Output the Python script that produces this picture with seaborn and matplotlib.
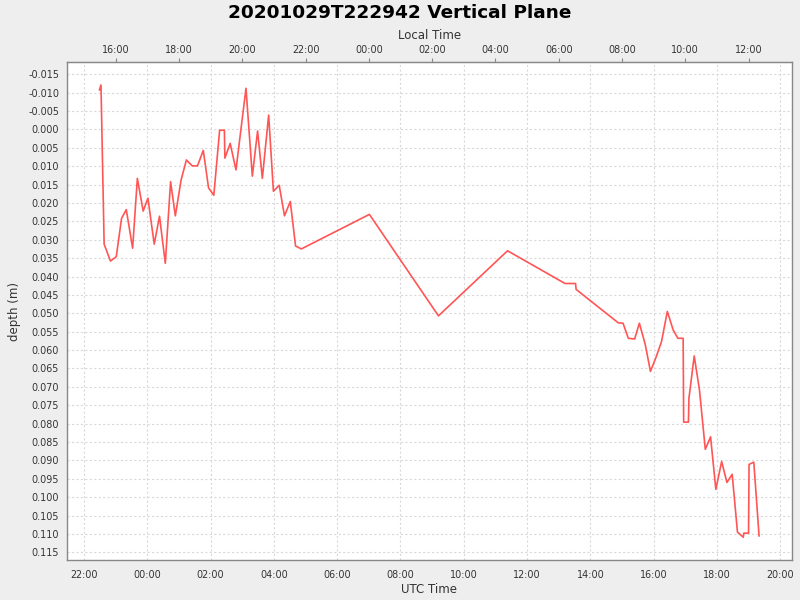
import pandas as pd
import matplotlib
matplotlib.use('Agg')
import matplotlib.pyplot as plt
import matplotlib.dates as mdates
import matplotlib.ticker as mticker
import seaborn as sns

# sample times (UTC) and depth readings
times = [
    '2020-10-29 22:29', '2020-10-29 22:32', '2020-10-29 22:38', '2020-10-29 22:50',
    '2020-10-29 23:01', '2020-10-29 23:11', '2020-10-29 23:20', '2020-10-29 23:32',
    '2020-10-29 23:41', '2020-10-29 23:52',
    '2020-10-30 00:01', '2020-10-30 00:13', '2020-10-30 00:23', '2020-10-30 00:34',
    '2020-10-30 00:44', '2020-10-30 00:53', '2020-10-30 01:04', '2020-10-30 01:14',
    '2020-10-30 01:25', '2020-10-30 01:35', '2020-10-30 01:46', '2020-10-30 01:56',
    '2020-10-30 02:06', '2020-10-30 02:17', '2020-10-30 02:26', '2020-10-30 02:27',
    '2020-10-30 02:37', '2020-10-30 02:48', '2020-10-30 03:07', '2020-10-30 03:19',
    '2020-10-30 03:29', '2020-10-30 03:38', '2020-10-30 03:50', '2020-10-30 03:59',
    '2020-10-30 04:10', '2020-10-30 04:20', '2020-10-30 04:31', '2020-10-30 04:41',
    '2020-10-30 04:52', '2020-10-30 07:01', '2020-10-30 09:12', '2020-10-30 11:23',
    '2020-10-30 13:12', '2020-10-30 13:32', '2020-10-30 13:33', '2020-10-30 14:53',
    '2020-10-30 15:02', '2020-10-30 15:12', '2020-10-30 15:24', '2020-10-30 15:33',
    '2020-10-30 15:44', '2020-10-30 15:54', '2020-10-30 16:05', '2020-10-30 16:15',
    '2020-10-30 16:26', '2020-10-30 16:37', '2020-10-30 16:46', '2020-10-30 16:56',
    '2020-10-30 16:57', '2020-10-30 17:06', '2020-10-30 17:07', '2020-10-30 17:17',
    '2020-10-30 17:27', '2020-10-30 17:38', '2020-10-30 17:48', '2020-10-30 17:58',
    '2020-10-30 18:09', '2020-10-30 18:19', '2020-10-30 18:29', '2020-10-30 18:39',
    '2020-10-30 18:50', '2020-10-30 18:51', '2020-10-30 19:00', '2020-10-30 19:01',
    '2020-10-30 19:10', '2020-10-30 19:20',
]
depth = [
    -0.0107, -0.0121, 0.0312, 0.0358, 0.0346, 0.0242, 0.0218, 0.0323, 0.0133, 0.0222,
    0.0187, 0.0312, 0.0236, 0.0364, 0.0142, 0.0235, 0.0137, 0.0083, 0.0099, 0.0099,
    0.0057, 0.0159, 0.0179, 0.0002, 0.0002, 0.0078, 0.0038, 0.0110, -0.0112, 0.0127,
    0.0004, 0.0133, -0.0039, 0.0168, 0.0152, 0.0235, 0.0196, 0.0317, 0.0325, 0.0231,
    0.0507, 0.0330, 0.0419, 0.0419, 0.0435, 0.0526, 0.0527, 0.0568, 0.0570, 0.0527,
    0.0584, 0.0658, 0.0618, 0.0577, 0.0495, 0.0545, 0.0568, 0.0568, 0.0796, 0.0796,
    0.0731, 0.0616, 0.0709, 0.0870, 0.0836, 0.0979, 0.0903, 0.0960, 0.0938, 0.1095,
    0.1109, 0.1098, 0.1098, 0.0911, 0.0905, 0.1106,
]
local_offset_h = -7  # local time = UTC - 7h

df = pd.DataFrame({'utc': pd.to_datetime(times), 'depth': depth})

sns.set_style('white')
plt.rcParams['font.family'] = ['DejaVu Sans']

fig = plt.figure(figsize=(8, 6), dpi=100, facecolor='#eeeeee')
ax = fig.add_axes([66.7 / 800, 39.7 / 600, (792.3 - 66.7) / 800, (560.3 - 62.3) / 600])
ax.set_facecolor('white')

sns.lineplot(data=df, x='utc', y='depth', ax=ax, color='#ff5555', linewidth=1.2,
             estimator=None, sort=False)

ax.set_xlim(pd.Timestamp('2020-10-29 21:27'), pd.Timestamp('2020-10-30 20:23'))
ax.set_ylim(0.11718, -0.01826)

ax.xaxis.set_major_locator(mdates.HourLocator(byhour=range(0, 24, 2)))
ax.xaxis.set_major_formatter(mdates.DateFormatter('%H:%M'))
ax.yaxis.set_major_locator(mticker.MultipleLocator(0.005))
ax.yaxis.set_major_formatter(mticker.FormatStrFormatter('%.3f'))

ax.grid(True, color='#d9d9d9', linestyle=(0, (2, 2)), linewidth=0.8)
for s in ax.spines.values():
    s.set_color('#888888')
    s.set_linewidth(1.0)
ax.tick_params(axis='both', direction='out', length=3, width=0.8, color='#888888',
               labelsize=6.9, pad=2.5, labelcolor='#333333')
ax.tick_params(axis='x', pad=4)

ax.set_xlabel('UTC Time', fontsize=8.5, labelpad=2, color='#333333')
ax.set_ylabel('depth (m)', fontsize=8.5, labelpad=5, color='#333333')

off = local_offset_h / 24.0
secax = ax.secondary_xaxis('top', functions=(lambda v: v + off, lambda v: v - off))
secax.xaxis.set_major_locator(mdates.HourLocator(byhour=range(0, 24, 2)))
secax.xaxis.set_major_formatter(mdates.DateFormatter('%H:%M'))
secax.tick_params(direction='out', length=3, width=0.8, color='#888888',
                  labelsize=6.9, pad=2.5, labelcolor='#333333')
secax.spines['top'].set_color('#888888')
secax.set_xlabel('Local Time', fontsize=8.5, labelpad=4, color='#333333')

fig.suptitle('20201029T222942 Vertical Plane', fontsize=13.3, fontweight='bold',
             color='black', y=0.978, va='center')

fig.savefig('out.png', dpi=100, facecolor=fig.get_facecolor())
